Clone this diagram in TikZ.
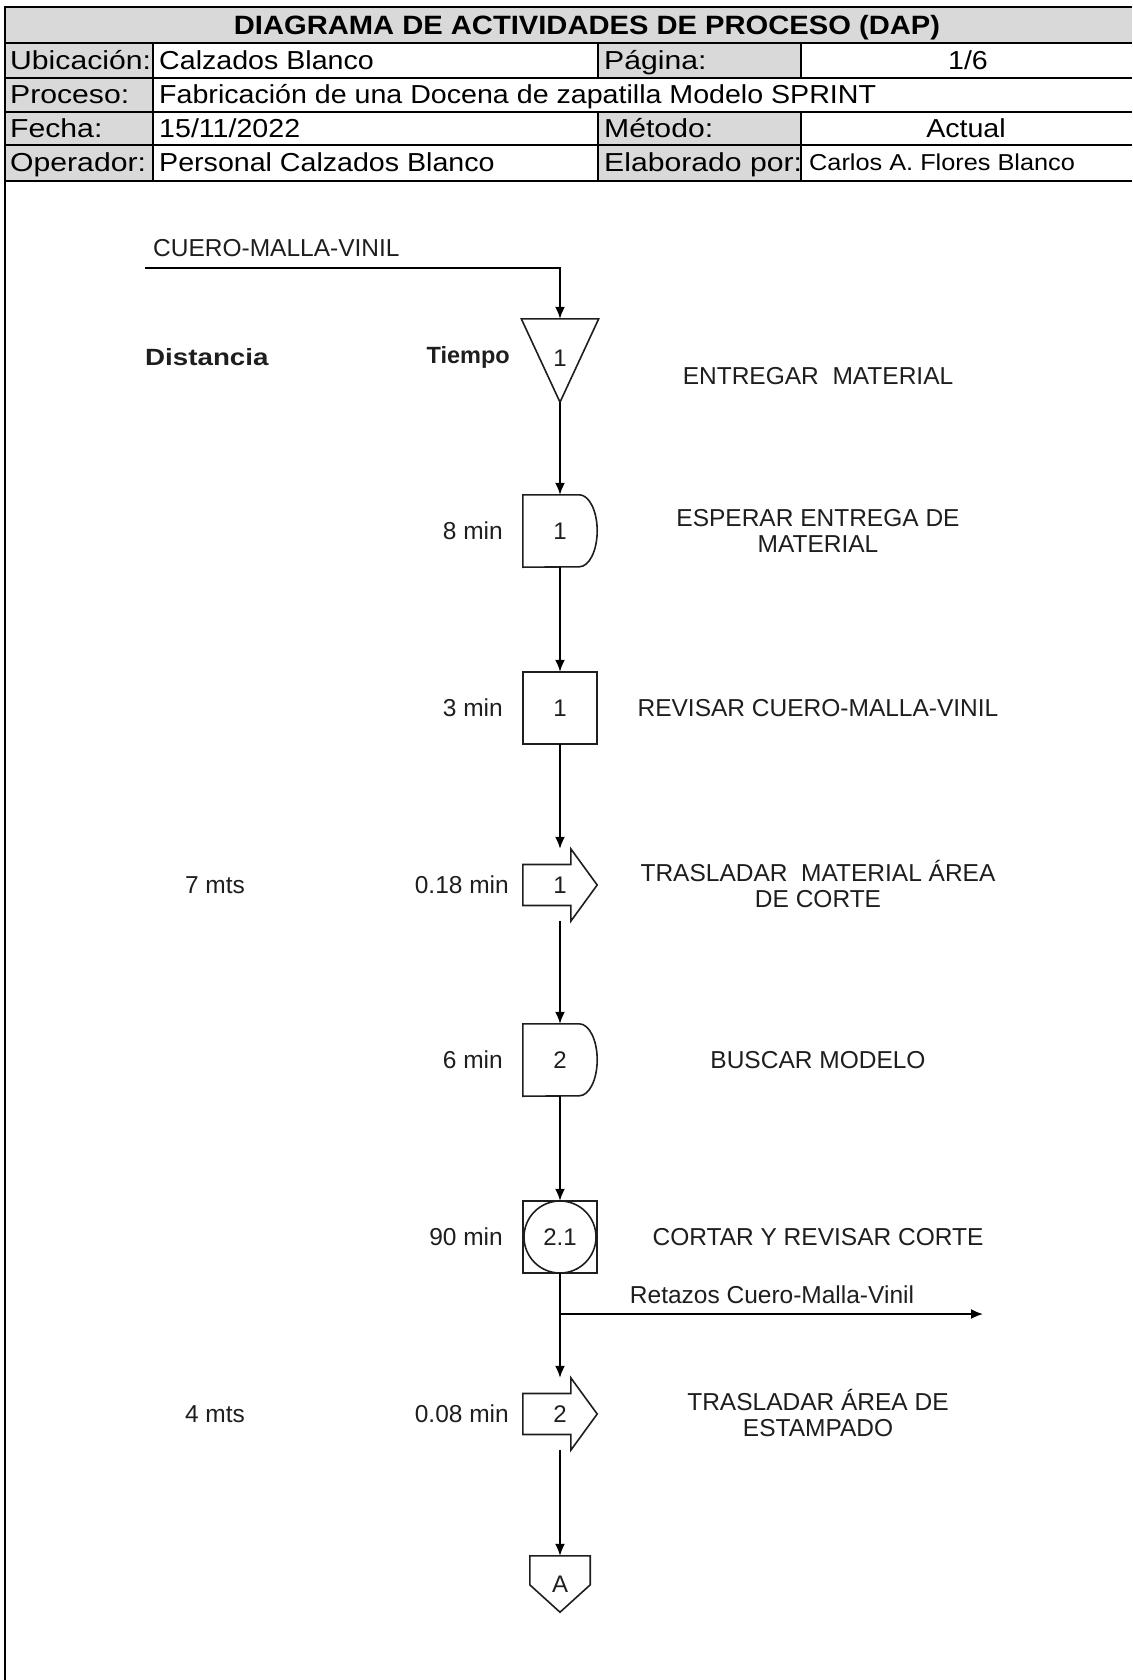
\documentclass[tikz,border=0pt]{standalone}
\usepackage{fontspec}
\setmainfont{Liberation Sans}
\newfontfamily\hdrfont[FakeStretch=1.1]{Liberation Sans}
\newfontfamily\lblfont[FakeStretch=1.16]{Liberation Sans}
\newfontfamily\ttlfont[FakeStretch=1.1]{Liberation Sans}
\newfontfamily\bodyfont{Liberation Sans}
\newfontfamily\distfont[FakeStretch=1.18]{Liberation Sans}
\usetikzlibrary{arrows.meta,calc}
\definecolor{hdrgray}{HTML}{D9D9D9}
\definecolor{ink}{HTML}{1E1E1E}
\begin{document}
\begin{tikzpicture}[x=1pt,y=-1pt,
  hd/.style={inner sep=0pt,font=\hdrfont\fontsize{26}{30}\selectfont},
  hl/.style={inner sep=0pt,font=\lblfont\fontsize{26}{30}\selectfont},
  hdsm/.style={inner sep=0pt,font=\hdrfont\fontsize{23}{27}\selectfont},
  ttl/.style={inner sep=0pt,font=\ttlfont\bfseries\fontsize{26.5}{30}\selectfont},
  grid/.style={line width=2.8pt,black},
  slot/.style={minimum width=74pt,minimum height=72pt,inner sep=0pt,text=ink,
    font=\bodyfont\fontsize{24}{26}\selectfont},
  shp/.style={draw=ink,line width=1.6pt,line join=miter},
  flow/.style={draw=black,line width=1.8pt,-{Latex[length=12pt,width=10pt]}},
  txt/.style={inner sep=0pt,text=ink,font=\bodyfont\fontsize{24.5}{26.5}\selectfont},
  bld/.style={inner sep=0pt,text=ink,font=\bodyfont\bfseries\fontsize{23.5}{26}\selectfont},
  dsc/.style={txt,align=center}]
\useasboundingbox (0,0) rectangle (1132,1680);
% ---------- header ----------
\fill[hdrgray] (5,7) rectangle (1132,43);
\fill[hdrgray] (5,43) rectangle (153,181);
\fill[hdrgray] (598,43) rectangle (801,78);
\fill[hdrgray] (598,112) rectangle (801,181);
\foreach \yy in {7,43,78,112,145,181}{\draw[grid] (5,\yy) -- (1132,\yy);}
\draw[grid] (5,5.6) -- (5,1680);
\draw[grid] (153,43) -- (153,181);
\draw[grid] (598,43) -- (598,78);
\draw[grid] (598,112) -- (598,181);
\draw[grid] (801,43) -- (801,78);
\draw[grid] (801,112) -- (801,181);
\node[ttl,anchor=base] (title) at (587,34.5) {DIAGRAMA DE ACTIVIDADES DE PROCESO (DAP)};
\node[hl,anchor=base west] (lu) at (10,69.5) {Ubicación:};
\node[hd,anchor=base west] (vu) at (159,69.5) {Calzados Blanco};
\node[hl,anchor=base west] (lpg) at (604,69.5) {Página:};
\node[hd,anchor=base] (vpg) at (968,69.5) {1/6};
\node[hl,anchor=base west] (lpr) at (10,104) {Proceso:};
\node[hd,anchor=base west] (vpr) at (159,104) {Fabricación de una Docena de zapatilla Modelo SPRINT};
\node[hl,anchor=base west] (lfe) at (10,137.5) {Fecha:};
\node[hd,anchor=base west] (vfe) at (159,137.5) {15/11/2022};
\node[hl,anchor=base west] (lme) at (604,137.5) {Método:};
\node[hd,anchor=base] (vme) at (966,137.5) {Actual};
\node[hl,anchor=base west] (lop) at (10,172) {Operador:};
\node[hd,anchor=base west] (vop) at (159,172) {Personal Calzados Blanco};
\node[hl,anchor=base west] (lel) at (604,172) {Elaborado por:};
\node[hdsm,anchor=base west] (vel) at (809,171) {Carlos A. Flores Blanco};
% ---------- flow nodes ----------
\node[slot,minimum width=77pt,minimum height=83pt] (s1) at (560,360.5) {\raisebox{5pt}{1}};
\draw[shp] (s1.north west) -- (s1.north east) -- (s1.south) -- cycle;
\node[slot] (d1) at (560,531) {1};
\draw[shp] (d1.north west) -- ($(d1.north east)+(-18,0)$) arc[start angle=90,end angle=-90,x radius=18pt,y radius=36pt] -- (d1.south west) -- cycle;
\node[slot] (i1) at (560,708) {1};
\draw[shp] (i1.north west) rectangle (i1.south east);
\node[slot] (t1) at (560,885) {1};
\draw[shp] ($(t1.west)+(0,-20.5)$) -- ($(t1.west)+(48,-20.5)$) -- ($(t1.north west)+(48,0)$) -- (t1.east) -- ($(t1.south west)+(48,0)$) -- ($(t1.west)+(48,20.5)$) -- ($(t1.west)+(0,20.5)$) -- cycle;
\node[slot] (d2) at (560,1060) {2};
\draw[shp] (d2.north west) -- ($(d2.north east)+(-18,0)$) arc[start angle=90,end angle=-90,x radius=18pt,y radius=36pt] -- (d2.south west) -- cycle;
\node[slot] (c21) at (560,1237) {2.1};
\draw[shp] (c21.north west) rectangle (c21.south east);
\draw[shp] (c21.center) circle[radius=36pt];
\node[slot] (t2) at (560,1414) {2};
\draw[shp] ($(t2.west)+(0,-20.5)$) -- ($(t2.west)+(48,-20.5)$) -- ($(t2.north west)+(48,0)$) -- (t2.east) -- ($(t2.south west)+(48,0)$) -- ($(t2.west)+(48,20.5)$) -- ($(t2.west)+(0,20.5)$) -- cycle;
\node[slot,minimum width=60pt,minimum height=56pt] (ca) at (560,1584) {\raisebox{-3pt}{A}};
\draw[shp] (ca.north west) -- (ca.north east) -- ($(ca.north east)+(0,29)$) -- (ca.south) -- ($(ca.north west)+(0,29)$) -- cycle;
% ---------- connectors ----------
\coordinate (inp) at (145,268);
\coordinate (brend) at (983,1314);
\draw[flow] (inp) -| (s1.north);
\draw[flow] (s1.south) -- (d1.north);
\draw[flow] (d1.south) -- (i1.north);
\draw[flow] (i1.south) -- (t1.north);
\draw[flow] (t1.south) -- (d2.north);
\draw[flow] (d2.south) -- (c21.north);
\draw[flow] (c21.south) -- (t2.north);
\draw[flow] (c21.south |- brend) -- (brend);
\draw[flow] (t2.south) -- (ca.north);
% ---------- texts ----------
\node[txt,anchor=west] (inlbl) at (153,248) {CUERO-MALLA-VINIL};
\node[bld,anchor=west,font=\distfont\bfseries\fontsize{23.5}{26}\selectfont] (dist) at (145,357) {Distancia};
\node[bld,anchor=east] (tiem) at (510,357) {Tiempo};
\node[dsc] (ds1) at (818,376) {ENTREGAR\ \ MATERIAL};
\node[txt,anchor=east] (tm1) at (503,531) {8 min};
\node[dsc] (ds2) at (818,531) {ESPERAR ENTREGA DE\\MATERIAL};
\node[txt,anchor=east] (tm2) at (503,708) {3 min};
\node[dsc] (ds3) at (818,708) {REVISAR CUERO-MALLA-VINIL};
\node[txt] (mt1) at (215,885) {7 mts};
\node[txt,anchor=east] (tm3) at (509,885) {0.18 min};
\node[dsc] (ds4) at (818,884) {TRASLADAR\ \ MATERIAL ÁREA\\DE CORTE};
\node[txt,anchor=east] (tm4) at (503,1060) {6 min};
\node[dsc] (ds5) at (818,1060) {BUSCAR MODELO};
\node[txt,anchor=east] (tm5) at (503,1237) {90 min};
\node[dsc] (ds6) at (818,1237) {CORTAR Y REVISAR CORTE};
\node[txt] (ret) at (772,1295) {Retazos Cuero-Malla-Vinil};
\node[txt] (mt2) at (215,1414) {4 mts};
\node[txt,anchor=east] (tm6) at (509,1414) {0.08 min};
\node[dsc] (ds7) at (818,1413) {TRASLADAR ÁREA DE\\ESTAMPADO};
\end{tikzpicture}
\end{document}
